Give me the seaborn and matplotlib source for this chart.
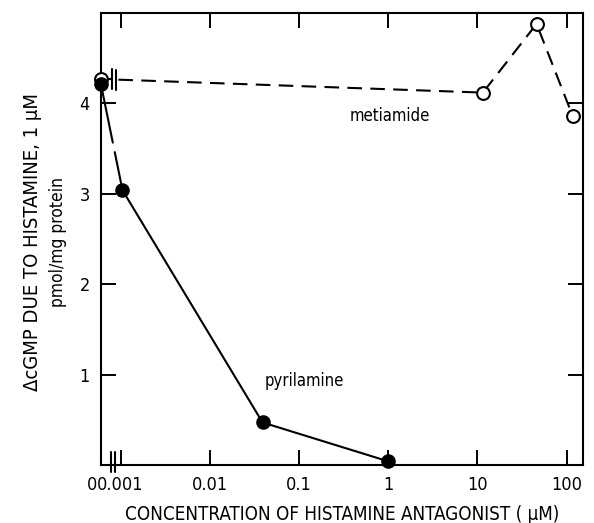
import numpy as np
import pandas as pd
import matplotlib
matplotlib.use("Agg")
import matplotlib.pyplot as plt
from matplotlib import font_manager
from matplotlib.transforms import ScaledTranslation
import seaborn as sns

# values (antagonist concentration in uM, 0 = none)
metiamide_conc = [0, 11.5, 46, 117]
metiamide_cgmp = [4.27, 4.12, 4.88, 3.86]
pyrilamine_conc = [0, 0.00105, 0.039, 1.0]
pyrilamine_cgmp = [4.21, 3.04, 0.47, 0.04]

x_ticks = [0, 0.001, 0.01, 0.1, 1, 10, 100]
x_tick_labels = ["0", "0.001", "0.01", "0.1", "1", "10", "100"]
y_ticks = [1, 2, 3, 4]

ZERO_POS = -3.22  # where "0" sits on the broken log axis


def to_pos(conc):
    conc = np.asarray(conc, dtype=float)
    out = np.full(conc.shape, ZERO_POS)
    ok = conc > 0
    out[ok] = np.log10(conc[ok])
    return out


sns.set_style("ticks")
names = {f.name for f in font_manager.fontManager.ttflist}
narrow = "Liberation Sans Narrow" if "Liberation Sans Narrow" in names else "DejaVu Sans"
plt.rcParams["font.family"] = [narrow, "DejaVu Sans"]
plt.rcParams["font.stretch"] = "condensed"
for k in ["text.color", "axes.labelcolor", "xtick.color", "ytick.color",
          "axes.edgecolor"]:
    plt.rcParams[k] = "black"

fig, ax = plt.subplots(figsize=(5.94, 5.23), dpi=100)
fig.subplots_adjust(left=0.170, right=0.981, top=0.975, bottom=0.111)

lw = 1.5
met = pd.DataFrame({"pos": to_pos(metiamide_conc), "cgmp": metiamide_cgmp})
pyr = pd.DataFrame({"pos": to_pos(pyrilamine_conc), "cgmp": pyrilamine_cgmp})

# metiamide: short solid stub, axis-break mark, then dashed line
x0, y0 = met.pos[0], met.cgmp[0]
x1, y1 = met.pos[1], met.cgmp[1]
brk = [x0 + 0.12, x0 + 0.165]
y_at = lambda x: np.interp(x, [x0, x1], [y0, y1])
ax.plot([x0, brk[0]], [y0, y0], color="black", lw=lw)
for b in brk:
    ax.plot([b, b], [y_at(b) - 0.11, y_at(b) + 0.11], color="black", lw=lw)
dash_df = pd.DataFrame({"pos": [brk[1] + 0.03] + list(met.pos[1:]),
                        "cgmp": [y_at(brk[1] + 0.03)] + list(met.cgmp[1:])})
sns.lineplot(data=dash_df, x="pos", y="cgmp", sort=False, color="black",
             lw=lw, linestyle=(0, (7, 4)), ax=ax)

# pyrilamine: broken first segment, then solid line
px0, py0 = pyr.pos[0], pyr.cgmp[0]
px1, py1 = pyr.pos[1], pyr.cgmp[1]
for t0, t1 in [(0.0, 0.55), (0.64, 1.0)]:
    ax.plot([px0 + t0 * (px1 - px0), px0 + t1 * (px1 - px0)],
            [py0 + t0 * (py1 - py0), py0 + t1 * (py1 - py0)],
            color="black", lw=lw)
sns.lineplot(data=pyr.iloc[1:], x="pos", y="cgmp", sort=False, color="black",
             lw=lw, ax=ax)

sns.scatterplot(data=met, x="pos", y="cgmp", s=85, color="white",
                edgecolor="black", linewidth=1.5, zorder=4, clip_on=False, ax=ax)
sns.scatterplot(data=pyr, x="pos", y="cgmp", s=90, color="black",
                edgecolor="black", linewidth=1, zorder=5, clip_on=False, ax=ax)

ax.set_xlim(ZERO_POS, 2.18)
ax.set_ylim(0, 5)
ax.set_xticks(to_pos(x_ticks))
ax.set_xticklabels(x_tick_labels)
ax.set_yticks(y_ticks)
ax.set_yticklabels([str(v) for v in y_ticks])
ax.tick_params(direction="in", length=11, width=1.4, top=True, right=True,
               labelsize=13, pad=8)
zero_lab = ax.get_xticklabels()[0]
zero_lab.set_horizontalalignment("right")
zero_lab.set_transform(zero_lab.get_transform()
                       + ScaledTranslation(-3 / 72, 0, fig.dpi_scale_trans))
for s in ax.spines.values():
    s.set_linewidth(1.5)

# break marks on the x axis
for b in [ZERO_POS + 0.11, ZERO_POS + 0.155]:
    ax.plot([b, b], [-0.08, 0.14], color="black", lw=lw, clip_on=False)

ax.set_xlabel("CONCENTRATION OF HISTAMINE ANTAGONIST ( μM)", fontsize=13.5,
              labelpad=8)
ax.set_ylabel("")
fig.text(0.055, 0.537, "ΔcGMP DUE TO HISTAMINE, 1 μM", rotation=90,
         ha="center", va="center", fontsize=14.5)
fig.text(0.098, 0.537, "pmol/mg protein", rotation=90, ha="center",
         va="center", fontsize=12.5)

ax.text(0.017, 3.86, "metiamide", ha="center", va="center", fontsize=12)
ax.text(-0.946, 0.93, "pyrilamine", ha="center", va="center", fontsize=12)

fig.savefig("out.png", dpi=100)
